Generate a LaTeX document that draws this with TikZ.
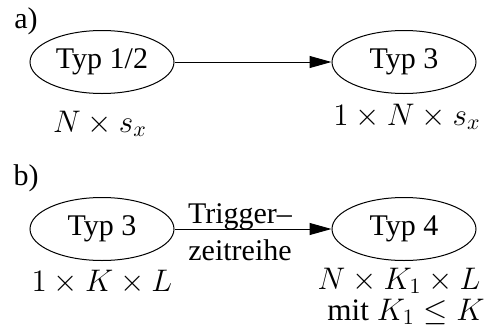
\documentclass[tikz,border=0pt]{standalone}
\usepackage{fix-cm}
\usepackage{fontspec}
\setmainfont{Liberation Serif}
\usetikzlibrary{shapes.geometric,arrows.meta}
\begin{document}
\begin{tikzpicture}[x=0.5pt,y=-0.5pt,
  every node/.style={font=\fontsize{15}{17}\selectfont, inner sep=0pt},
  lbl/.style={anchor=base},
  mth/.style={anchor=base, font=\fontsize{15.6}{18}\selectfont},
  ell/.style={ellipse, draw, line width=0.5pt, minimum width=72pt, minimum height=31.5pt},
  arr/.style={-{Triangle[length=11pt,width=6pt]}, line width=0.5pt}]
\useasboundingbox (0,0) rectangle (493,327);
\node[lbl] (la) at (26,28) {a)};
\node[ell] (a1) at (102,62) {Typ 1/2};
\node[ell] (a2) at (404,62) {Typ 3};
\draw[arr] (a1) -- (a2);
\node[mth] (a1l) at (100,132) {$N\times s_x$};
\node[mth] (a2l) at (407,125) {$1\times N\times s_x$};
\node[lbl] (lb) at (26,185) {b)};
\node[ell] (b1) at (102,229) {Typ 3};
\node[ell] (b2) at (404,229) {Typ 4};
\draw[arr] (b1) -- (b2);
\node[lbl] (t1) at (240,223) {Trigger–};
\node[lbl] (t2) at (240,260) {zeitreihe};
\node[mth] (b1l) at (102,291) {$1\times K\times L$};
\node[mth] (b2l) at (399,289) {$N\times K_1\times L$};
\node[mth] (b2m) at (406,320) {$\mathrm{mit}\ K_1\le K$};
\end{tikzpicture}
\end{document}
